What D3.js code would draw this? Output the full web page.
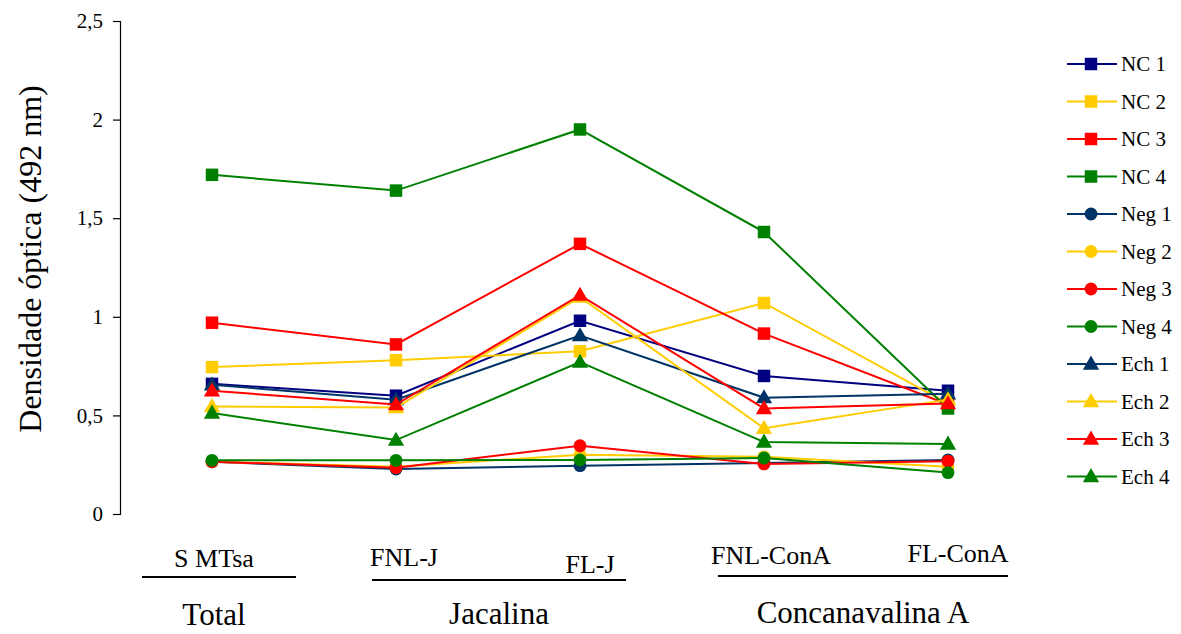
<!DOCTYPE html>
<html lang="pt">
  <head>
    <meta charset="UTF-8" />
    <title>Densidade óptica</title>
    <style>
      body { margin: 0; background: #fff; }
      text { font-family: "Liberation Serif", "Times New Roman", serif; fill: #000; }
    </style>
  </head>
  <body>
    <script src="https://d3js.org/d3.v7.min.js"></script>
    <script>
      const categories = ["S MTsa", "FNL-J", "FL-J", "FNL-ConA", "FL-ConA"];
      const yTicks = [0, 0.5, 1, 1.5, 2, 2.5];

      const seriesNames = ["NC 1", "NC 2", "NC 3", "NC 4", "Neg 1", "Neg 2", "Neg 3", "Neg 4", "Ech 1", "Ech 2", "Ech 3", "Ech 4"];
      const nc1 = [0.66, 0.6, 0.98, 0.7, 0.625];
      const nc2 = [0.745, 0.78, 0.825, 1.07, 0.56];
      const nc3 = [0.97, 0.86, 1.37, 0.915, 0.555];
      const nc4 = [1.72, 1.64, 1.95, 1.43, 0.535];
      const neg1 = [0.265, 0.228, 0.245, 0.258, 0.274];
      const neg2 = [0.265, 0.24, 0.3, 0.29, 0.24];
      const neg3 = [0.265, 0.235, 0.346, 0.254, 0.268];
      const neg4 = [0.272, 0.272, 0.274, 0.284, 0.21];
      const ech1 = [0.655, 0.58, 0.905, 0.59, 0.61];
      const ech2 = [0.545, 0.54, 1.1, 0.435, 0.58];
      const ech3 = [0.625, 0.555, 1.11, 0.535, 0.56];
      const ech4 = [0.512, 0.375, 0.77, 0.365, 0.355];
      const seriesValues = [nc1, nc2, nc3, nc4, neg1, neg2, neg3, neg4, ech1, ech2, ech3, ech4];

      const colors = ["#000080", "#ffcc00", "#ff0000", "#008000", "#003366", "#ffcc00", "#ff0000", "#008000", "#003366", "#ffcc00", "#ff0000", "#008000"];
      const shapes = ["square", "square", "square", "square", "circle", "circle", "circle", "circle", "triangle", "triangle", "triangle", "triangle"];

      const groups = ["Total", "Jacalina", "Concanavalina A"];
      const groupFrom = [0, 1, 3];
      const groupTo = [0, 2, 4];

      const svg = d3.select("body").append("svg")
        .attr("width", 1181)
        .attr("height", 634);

      const x = d3.scaleBand().domain(categories).range([120, 1040]);
      const y = d3.scaleLinear().domain([0, 2.5]).range([514, 21]);
      const cx = (c) => x(c) + x.bandwidth() / 2;

      // eixo y
      const yAxis = svg.append("g")
        .attr("transform", "translate(120,0)")
        .call(d3.axisLeft(y).tickValues(yTicks).tickSize(7).tickPadding(10)
          .tickFormat((d) => String(d).replace(".", ",")));
      yAxis.select(".domain").attr("stroke", "#000").attr("stroke-width", 1.2);
      yAxis.selectAll(".tick line").attr("stroke", "#000").attr("stroke-width", 1.2);
      yAxis.selectAll(".tick text")
        .attr("font-family", null)
        .style("font-size", "21px");

      svg.append("text")
        .attr("transform", "translate(41,259) rotate(-90)")
        .attr("text-anchor", "middle")
        .style("font-size", "32px")
        .text("Densidade óptica (492 nm)");

      const symbolFor = (shape) => {
        if (shape === "square") return d3.symbol(d3.symbolSquare, 156);
        if (shape === "circle") return d3.symbol(d3.symbolCircle, 130);
        return d3.symbol(d3.symbolTriangle, 115);
      };

      // linhas
      const line = d3.line().x((d, i) => cx(categories[i])).y((d) => y(d));

      seriesValues.forEach((vals, s) => {
        const g = svg.append("g");
        g.append("path")
          .datum(vals)
          .attr("fill", "none")
          .attr("stroke", colors[s])
          .attr("stroke-width", 2)
          .attr("d", line);
        g.selectAll("path.m")
          .data(vals)
          .join("path")
          .attr("class", "m")
          .attr("transform", (d, i) => `translate(${cx(categories[i])},${y(d) + (shapes[s] === "triangle" ? 1 : 0)})`)
          .attr("d", symbolFor(shapes[s]))
          .attr("fill", colors[s]);
      });

      // categorias
      const labelY = [567, 566, 573, 564, 562];
      const labelDx = [2, 8, 10, 7, 10];
      categories.forEach((c, i) => {
        svg.append("text")
          .attr("x", cx(c) + labelDx[i])
          .attr("y", labelY[i])
          .attr("text-anchor", "middle")
          .style("font-size", "26px")
          .text(c);
      });

      // grupos
      const lineY = [577, 580, 576];
      const lineLeft = [-70, -24, -46];
      const lineRight = [84, 46, 60];
      const groupY = [625, 624, 623];
      groups.forEach((name, i) => {
        const left = cx(categories[groupFrom[i]]) + lineLeft[i];
        const right = cx(categories[groupTo[i]]) + lineRight[i];
        svg.append("line")
          .attr("x1", left).attr("x2", right)
          .attr("y1", lineY[i]).attr("y2", lineY[i])
          .attr("stroke", "#000").attr("stroke-width", 2);
        svg.append("text")
          .attr("x", (left + right) / 2 - (i === 0 ? 5 : 0))
          .attr("y", groupY[i])
          .attr("text-anchor", "middle")
          .style("font-size", "31px")
          .text(name);
      });

      // legenda
      const legend = svg.append("g").attr("transform", "translate(1067,64)");
      seriesNames.forEach((name, s) => {
        const row = legend.append("g").attr("transform", `translate(0,${s * 37.5})`);
        row.append("line")
          .attr("x1", 0).attr("x2", 50)
          .attr("stroke", colors[s]).attr("stroke-width", 2);
        row.append("path")
          .attr("transform", `translate(24,${shapes[s] === "triangle" ? 1 : 0})`)
          .attr("d", symbolFor(shapes[s]))
          .attr("fill", colors[s]);
        row.append("text")
          .attr("x", 54)
          .attr("y", 7)
          .style("font-size", "21px")
          .text(name);
      });
    </script>
  </body>
</html>
